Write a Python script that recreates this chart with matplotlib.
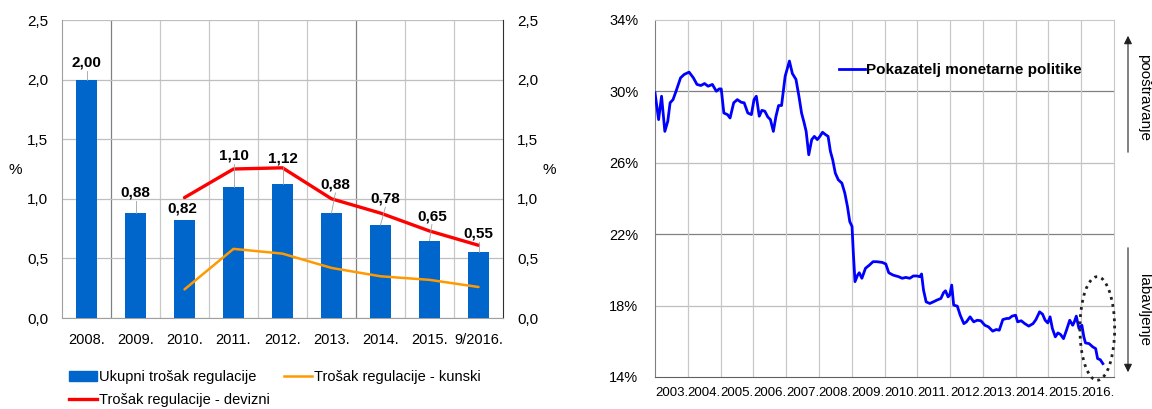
import matplotlib
matplotlib.use("Agg")
import matplotlib.pyplot as plt
from matplotlib.patches import Ellipse, Patch
from matplotlib.lines import Line2D
from matplotlib.ticker import FuncFormatter, MultipleLocator

plt.rcParams['font.family'] = ['Liberation Sans', 'DejaVu Sans']

# ---------------- data: left chart ----------------
categories = ['2008.', '2009.', '2010.', '2011.', '2012.', '2013.', '2014.', '2015.', '9/2016.']
ukupni = [2.00, 0.88, 0.82, 1.10, 1.12, 0.88, 0.78, 0.65, 0.55]
devizni = [None, None, 1.01, 1.25, 1.26, 1.00, 0.88, 0.73, 0.61]
kunski = [None, None, 0.24, 0.58, 0.54, 0.42, 0.35, 0.32, 0.26]
value_labels = ['2,00', '0,88', '0,82', '1,10', '1,12', '0,88', '0,78', '0,65', '0,55']

# ---------------- data: right chart ----------------
mp_years = [2003.00, 2003.11, 2003.20, 2003.30, 2003.39, 2003.46, 2003.55, 2003.64, 2003.78, 2003.89,
            2004.04, 2004.17, 2004.28, 2004.40, 2004.51, 2004.62, 2004.75, 2004.87, 2004.96, 2005.02,
            2005.10, 2005.21, 2005.29, 2005.40, 2005.51, 2005.63, 2005.72, 2005.83, 2005.94, 2006.02,
            2006.09, 2006.18, 2006.26, 2006.35, 2006.44, 2006.52, 2006.61, 2006.69, 2006.77, 2006.86,
            2006.97, 2007.10, 2007.19, 2007.30, 2007.39, 2007.47, 2007.55, 2007.61, 2007.69, 2007.78,
            2007.86, 2007.95, 2008.03, 2008.11, 2008.20, 2008.28, 2008.35, 2008.42, 2008.50, 2008.59,
            2008.70, 2008.79, 2008.87, 2008.94, 2009.01, 2009.05, 2009.10, 2009.18, 2009.23, 2009.31,
            2009.42, 2009.54, 2009.65, 2009.76, 2009.93, 2010.04, 2010.13, 2010.26, 2010.43, 2010.54,
            2010.65, 2010.77, 2010.88, 2010.99, 2011.08, 2011.13, 2011.19, 2011.27, 2011.38, 2011.49,
            2011.60, 2011.72, 2011.80, 2011.86, 2011.94, 2011.99, 2012.05, 2012.11, 2012.22, 2012.31,
            2012.42, 2012.50, 2012.61, 2012.72, 2012.83, 2012.94, 2013.06, 2013.17, 2013.30, 2013.41,
            2013.50, 2013.61, 2013.73, 2013.80, 2013.89, 2014.00, 2014.06, 2014.17, 2014.28, 2014.40,
            2014.53, 2014.62, 2014.73, 2014.82, 2014.90, 2014.98, 2015.05, 2015.12, 2015.21, 2015.29,
            2015.37, 2015.46, 2015.55, 2015.65, 2015.74, 2015.79, 2015.85, 2015.93, 2016.02, 2016.08,
            2016.13, 2016.24, 2016.35, 2016.44, 2016.50, 2016.58, 2016.66]
mp_values = [29.92, 28.42, 29.73, 27.76, 28.33, 29.36, 29.54, 30.00, 30.76, 30.95,
             31.08, 30.76, 30.39, 30.33, 30.44, 30.29, 30.39, 30.01, 30.14, 30.14,
             28.79, 28.70, 28.51, 29.36, 29.54, 29.39, 29.36, 28.79, 28.70, 29.54,
             29.73, 28.61, 28.94, 28.89, 28.57, 28.42, 27.76, 28.61, 29.21, 29.21,
             30.85, 31.70, 31.00, 30.67, 29.73, 28.79, 28.23, 27.76, 26.45, 27.30,
             27.48, 27.30, 27.48, 27.71, 27.58, 27.48, 26.64, 26.17, 25.42, 25.05,
             24.86, 24.30, 23.55, 22.71, 22.43, 20.93, 19.34, 19.71, 19.84, 19.53,
             20.09, 20.27, 20.46, 20.46, 20.42, 20.33, 19.84, 19.71, 19.62, 19.53,
             19.58, 19.53, 19.66, 19.66, 19.62, 19.77, 18.87, 18.21, 18.12, 18.21,
             18.31, 18.40, 18.72, 18.83, 18.49, 18.59, 19.15, 18.03, 17.97, 17.46,
             16.99, 17.09, 17.37, 17.09, 17.18, 17.15, 16.90, 16.81, 16.57, 16.66,
             16.62, 17.22, 17.28, 17.28, 17.41, 17.46, 17.09, 17.15, 16.99, 16.85,
             16.99, 17.22, 17.65, 17.52, 17.18, 17.03, 17.37, 16.72, 16.25, 16.47,
             16.38, 16.15, 16.62, 17.18, 16.90, 17.09, 17.41, 16.72, 16.90, 16.25,
             15.91, 15.87, 15.69, 15.59, 15.03, 14.97, 14.75]
year_labels = ['2003.', '2004.', '2005.', '2006.', '2007.', '2008.', '2009.', '2010.',
               '2011.', '2012.', '2013.', '2014.', '2015.', '2016.']

W, H = 1152, 409
fig = plt.figure(figsize=(W / 100, H / 100), dpi=100)
FS = 10.5

def px_axes(l, t, r, b):
    return fig.add_axes([l / W, 1 - b / H, (r - l) / W, (b - t) / H])

# ================= left chart =================
ax = px_axes(62, 20, 503, 318)
x = list(range(len(categories)))
ax.bar(x, ukupni, width=0.42, color='#0066CC', zorder=3)

xs_d = [i for i, v in zip(x, devizni) if v is not None]
ys_d = [v for v in devizni if v is not None]
xs_k = [i for i, v in zip(x, kunski) if v is not None]
ys_k = [v for v in kunski if v is not None]
ax.plot(xs_d, ys_d, color='#FF0000', lw=2.4, zorder=4, solid_capstyle='round')
ax.plot(xs_k, ys_k, color='#FF9900', lw=1.8, zorder=4, solid_capstyle='round')

ax.set_xlim(-0.5, len(categories) - 0.5)
ax.set_ylim(0, 2.5)
ax.yaxis.set_major_locator(MultipleLocator(0.5))
ax.yaxis.set_major_formatter(FuncFormatter(lambda v, p: f"{v:.1f}".replace('.', ',')))
ax.set_xticks(x)
ax.set_xticklabels(categories)
ax.tick_params(axis='x', length=0, labelsize=FS, pad=11)
ax.tick_params(axis='y', length=0, labelsize=11, labelright=True, pad=10)
ax.grid(axis='y', color='#BFBFBF', lw=0.9, zorder=0)
for b in range(len(categories) - 1):
    col = '#808080' if b in (0, 5) else '#C8C8C8'
    ax.axvline(b + 0.5, color=col, lw=0.9, zorder=0)
ax.spines['top'].set_visible(False)
ax.spines['left'].set_color('#A0A0A0')
ax.spines['bottom'].set_color('#A0A0A0')
ax.spines['right'].set_color('#303030')

# data labels (centre positions) with thin leader lines
label_y = [2.14, 1.05, 0.92, 1.36, 1.34, 1.12, 1.00, 0.855, 0.71]
label_dx = [0, 0, -0.05, 0, 0, 0.08, 0.1, 0.05, 0]
for i, (v, t, ly, dx) in enumerate(zip(ukupni, value_labels, label_y, label_dx)):
    ax.text(i + dx, ly, t, ha='center', va='center', fontsize=11, fontweight='bold', zorder=6)
    if ly - v > 0.12:
        ax.plot([i, i + dx], [v, ly - 0.07], color='#A0A0A0', lw=0.6, zorder=5)

fig.text(15 / W, 1 - 170 / H, '%', fontsize=11, ha='center', va='center')
fig.text(549 / W, 1 - 170 / H, '%', fontsize=11, ha='center', va='center')

handles = [Patch(color='#0066CC'), Line2D([], [], color='#FF0000', lw=2.4),
           Line2D([], [], color='#FF9900', lw=1.8)]
labels = ['Ukupni trošak regulacije', 'Trošak regulacije - devizni', 'Trošak regulacije - kunski']
fig.legend(handles, labels, ncol=2, loc='upper left', bbox_to_anchor=(69 / W, 1 - 370 / H),
           frameon=False, fontsize=FS, handlelength=1.9, handletextpad=0.15,
           columnspacing=1.0, labelspacing=0.6, borderpad=0, borderaxespad=0)

# ================= right chart =================
ax2 = px_axes(655, 20, 1114, 377)
ax2.plot(mp_years, mp_values, color='#0000FF', lw=2.0, zorder=3, label='Pokazatelj monetarne politike')
ax2.set_xlim(2003, 2017)
ax2.set_ylim(14, 34)
ax2.set_yticks([14, 18, 22, 26, 30, 34])
ax2.yaxis.set_major_formatter(FuncFormatter(lambda v, p: f"{v:.0f}%"))
ax2.set_xticks(range(2003, 2018))
ax2.set_xticklabels([])
ax2.set_xticks([yv + 0.5 for yv in range(2003, 2017)], minor=True)
ax2.set_xticklabels(year_labels, minor=True, fontsize=9.5)
ax2.tick_params(axis='y', which='both', length=0, labelsize=FS, pad=12)
ax2.tick_params(axis='x', which='both', length=0)
ax2.tick_params(axis='x', which='minor', pad=7)
for yv in [18, 22, 26, 30]:
    ax2.axhline(yv, color='#808080' if yv in (22, 30) else '#BFBFBF', lw=0.9, zorder=1)
for xv in range(2004, 2017):
    ax2.axvline(xv, color='#C8C8C8', lw=0.9, zorder=1)
ax2.spines['left'].set_color('#808080')
ax2.spines['bottom'].set_color('#606060')
ax2.spines['top'].set_color('#C8C8C8')
ax2.spines['right'].set_color('#C8C8C8')

leg = ax2.legend(loc='center left', bbox_to_anchor=(0.40, 0.86), frameon=False,
                 handlelength=1.7, handletextpad=0.1, borderpad=0, borderaxespad=0,
                 prop={'size': 11, 'weight': 'bold'})

ell = Ellipse((2016.49, 16.72), 1.06, 5.8, fill=False, ls=(0, (1, 1.6)), lw=2.0,
              color='#202020', clip_on=False, zorder=5)
ax2.add_patch(ell)

# arrows and side texts
ax2.annotate('', xy=(1128, H - 33), xytext=(1128, H - 155), xycoords='figure pixels',
             textcoords='figure pixels',
             arrowprops=dict(arrowstyle='-|>', color='#202020', lw=0.8, mutation_scale=12))
ax2.annotate('', xy=(1128, H - 375), xytext=(1128, H - 245), xycoords='figure pixels',
             textcoords='figure pixels',
             arrowprops=dict(arrowstyle='-|>', color='#202020', lw=0.8, mutation_scale=12))
fig.text(1144 / W, 1 - 97 / H, 'pooštravanje', rotation=270, fontsize=11, ha='center', va='center')
fig.text(1144 / W, 1 - 310 / H, 'labavljenje', rotation=270, fontsize=11, ha='center', va='center')

fig.savefig('out.png', dpi=100)
